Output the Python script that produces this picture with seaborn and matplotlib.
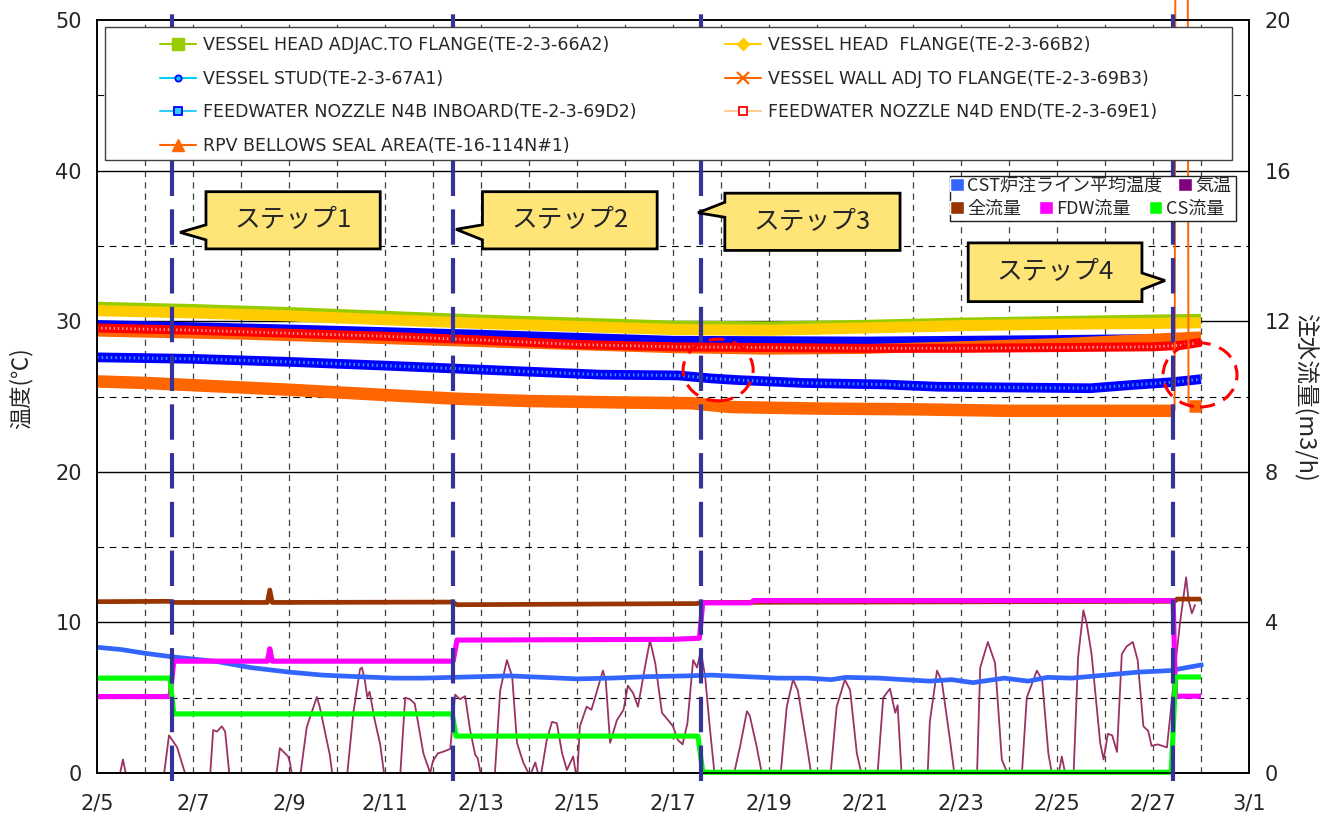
import numpy as np
import pandas as pd
import matplotlib
matplotlib.use("Agg")
import matplotlib.pyplot as plt
import seaborn as sns
from matplotlib.patches import Rectangle, Polygon, Ellipse, Patch
from matplotlib.lines import Line2D

# ---------------- data (x = days elapsed since 2/5 00:00) ----------------
x_tick_days = [0, 2, 4, 6, 8, 10, 12, 14, 16, 18, 20, 22, 24]
x_tick_labels = ["2/5", "2/7", "2/9", "2/11", "2/13", "2/15", "2/17",
                 "2/19", "2/21", "2/23", "2/25", "2/27", "3/1"]
temp_ticks = [0, 10, 20, 30, 40, 50]
flow_ticks = [0, 4, 8, 12, 16, 20]

step_days = [1.56, 7.42, 12.58, 22.42]
step_names = ["ステップ1", "ステップ2", "ステップ3", "ステップ4"]

# RPV surface temperatures (deg C)
head_adj_day = [0, 2, 4, 6, 8, 10, 12, 14, 16, 18, 20, 22, 23.0]
head_adj_temp = [30.9, 30.75, 30.55, 30.3, 30.05, 29.85, 29.65, 29.6, 29.7, 29.85, 29.95, 30.05, 30.1]

head_flange_day = [0, 2, 4, 6, 8, 10, 12, 14, 16, 18, 20, 22, 23.0]
head_flange_temp = [30.7, 30.55, 30.35, 30.1, 29.85, 29.65, 29.45, 29.4, 29.55, 29.7, 29.8, 29.85, 29.9]

stud_day = [0, 4, 8, 12, 16, 20, 23.0]
stud_temp = [29.8, 29.5, 29.15, 28.75, 28.7, 28.8, 28.9]

wall_day = [0, 3, 6, 9, 12, 14, 16, 18, 20, 22, 23.0]
wall_temp = [29.3, 29.1, 28.8, 28.5, 28.2, 28.1, 28.15, 28.35, 28.55, 28.85, 29.0]

n4d_day = [0, 2, 4, 6, 8, 10, 12, 14, 16, 18, 20, 22, 22.6, 23.0]
n4d_temp = [29.55, 29.4, 29.2, 29.0, 28.75, 28.45, 28.3, 28.25, 28.2, 28.2, 28.25, 28.3, 28.4, 28.6]

n4b_day = [0, 2, 4, 6, 7.5, 9, 10.5, 12.1, 12.8, 13.3, 14.7, 16.4, 17.5, 19, 20.7, 21.5, 22.4, 23.0]
n4b_temp = [27.6, 27.5, 27.3, 27.05, 26.85, 26.65, 26.45, 26.4, 26.2, 26.1, 25.9, 25.8, 25.65,
            25.6, 25.55, 25.75, 25.95, 26.15]

bellows_day = [0, 1, 2, 4, 6, 7.5, 9, 11, 12.4, 13.2, 15, 17, 19, 21, 22.45,
               22.47, 22.72, 22.74, 23.0]
bellows_temp = [26.0, 25.9, 25.75, 25.45, 25.1, 24.85, 24.7, 24.6, 24.55, 24.3, 24.2, 24.15,
                24.05, 24.05, 24.05, 60.0, 60.0, 24.4, 24.4]

# injection line average temperature (deg C)
cst_day = [0, 0.5, 1, 1.6, 2.5, 3.2, 4, 4.7, 5.4, 6.2, 6.8, 7.4, 8, 8.6, 9.3, 10, 10.7, 11.5,
           12.3, 12.8, 13.5, 14.2, 14.8, 15.3, 15.6, 16.3, 16.8, 17.35, 17.8, 18.25, 18.9,
           19.4, 19.8, 20.3, 21.0, 21.7, 22.35, 23.05]
cst_temp = [8.35, 8.2, 7.95, 7.7, 7.4, 7.0, 6.7, 6.5, 6.4, 6.3, 6.3, 6.35, 6.4, 6.45, 6.35, 6.25,
            6.3, 6.4, 6.45, 6.5, 6.4, 6.3, 6.3, 6.2, 6.35, 6.3, 6.2, 6.1, 6.2, 6.0, 6.3, 6.1,
            6.35, 6.3, 6.5, 6.7, 6.8, 7.2]

# outdoor air temperature (deg C)
air_day = [0.0, 0.45, 0.54, 0.63, 1.0, 1.38, 1.5, 1.67, 1.88, 2.1, 2.35, 2.42, 2.5, 2.6, 2.67,
           2.77, 3.2, 3.72, 3.81, 3.98, 4.02, 4.08, 4.2, 4.37, 4.58, 4.64, 4.85, 4.92, 5.05,
           5.2, 5.34, 5.48, 5.52, 5.58, 5.63, 5.68, 5.78, 5.9, 6.0, 6.15, 6.31, 6.42, 6.52,
           6.62, 6.73, 6.8, 6.94, 7.0, 7.1, 7.2, 7.36, 7.46, 7.56, 7.67, 7.77, 7.88, 7.93,
           8.02, 8.15, 8.29, 8.40, 8.54, 8.65, 8.75, 8.88, 9.02, 9.13, 9.23, 9.37, 9.48, 9.58,
           9.69, 9.79, 9.92, 10.0, 10.06, 10.2, 10.3, 10.38, 10.54, 10.6, 10.69, 10.83, 10.97,
           11.06, 11.17, 11.27, 11.42, 11.52, 11.63, 11.77, 11.9, 12.0, 12.1, 12.2, 12.3,
           12.42, 12.5, 12.58, 12.67, 12.77, 12.88, 13.1, 13.4, 13.54, 13.6, 13.74, 13.88,
           14.05, 14.23, 14.37, 14.5, 14.6, 14.79, 14.9, 15.1, 15.27, 15.41, 15.58, 15.69,
           15.83, 15.96, 16.1, 16.25, 16.38, 16.52, 16.63, 16.68, 16.77, 17.0, 17.3, 17.35,
           17.5, 17.6, 17.77, 17.88, 18.1, 18.33, 18.4, 18.56, 18.71, 18.85, 18.94, 19.06,
           19.16, 19.26, 19.37, 19.58, 19.69, 19.82, 19.92, 20.02, 20.1, 20.2, 20.34, 20.44,
           20.55, 20.62, 20.72, 20.9, 20.97, 21.06, 21.15, 21.25, 21.35, 21.45, 21.58, 21.68,
           21.8, 21.9, 21.97, 22.1, 22.29, 22.35, 22.46, 22.56, 22.69, 22.74, 22.81, 22.88]
air_temp = [-2.5, -0.5, 0.9, -0.5, -3.0, -0.5, 2.5, 1.7, -0.5, -3.0, -0.5, 2.85, 2.75, 3.1, 2.75,
            -0.5, -3.0, -0.5, 1.65, 1.1, 0.7, -0.5, -1.0, 3.05, 5.05, 4.4, 1.2, -0.5, -2.0,
            -0.5, 4.0, 6.9, 7.0, 6.15, 5.05, 5.4, 3.6, 1.9, -0.5, -1.5, -0.5, 5.0, 4.9,
            4.6, 2.6, 1.3, 0.0, 0.8, 1.3, 1.4, 1.6, 5.2, 4.9, 5.1, 2.9, 1.2, 1.0,
            -0.5, -1.5, 0.0, 5.5, 7.5, 6.4, 2.0, 0.7, -0.2, 0.7, -0.5, 2.2, 3.4, 3.3,
            1.3, 0.2, 1.1, -0.5, 3.1, 4.4, 4.2, 5.05, 6.8, 6.1, 2.0, 3.5, 4.2,
            5.8, 5.3, 4.4, 7.1, 8.8, 7.3, 4.0, 3.5, 3.1, 2.2, 1.9, 3.3,
            7.5, 7.0, 8.1, 6.4, 2.9, -0.5, -2.5, 1.8, 4.1, 3.8, 1.8, -0.5,
            -2.5, -0.5, 4.4, 6.2, 5.5, 1.8, -0.5, -2.5, -0.5, 4.4, 6.2, 5.5,
            1.3, -0.5, -1.0, -0.5, 5.0, 5.6, 4.0, 4.5, -0.5, -3.0, -0.5, 3.4,
            6.8, 6.1, 2.2, -0.5, -3.0, -0.5, 7.0, 8.7, 7.3, 0.9, 0.2, 0.0,
            -0.5, -0.5, 5.0, 6.8, 6.2, 1.3, -0.5, -0.3, 1.1, -0.5, -0.5, 7.7,
            10.8, 9.9, 7.9, 2.0, 0.9, 2.6, 2.5, 1.4, 7.9, 8.4, 8.7, 7.5,
            3.1, 2.8, 1.8, 1.9, 1.7, 3.5, 7.0, 9.9, 13.0, 11.5, 10.6, 11.2]

# injection flow rates (m3/h)
total_day = [0, 1.5, 1.6, 3.55, 3.6, 3.65, 7.4, 7.5, 12.5, 12.6, 22.45, 22.5, 23.0]
total_flow = [4.55, 4.56, 4.53, 4.53, 4.86, 4.53, 4.54, 4.47, 4.5, 4.53, 4.56, 4.62, 4.62]

fdw_day = [0, 1.52, 1.6, 3.55, 3.6, 3.65, 7.42, 7.5, 12.0, 12.55, 12.62, 13.62, 13.68, 22.42, 22.47, 23.0]
fdw_flow = [2.03, 2.03, 2.97, 2.97, 3.3, 2.97, 2.97, 3.53, 3.55, 3.58, 4.52, 4.52, 4.58, 4.58, 2.04, 2.04]

cs_day = [0, 1.52, 1.6, 7.4, 7.48, 12.52, 12.62, 22.38, 22.47, 23.0]
cs_flow = [2.52, 2.52, 1.57, 1.57, 0.98, 0.98, 0.02, 0.02, 2.55, 2.55]

# ---------------- styling ----------------
sns.set_style("white")
plt.rcParams["font.family"] = ["DejaVu Sans", "Noto Sans CJK JP"]
JP = ["Noto Sans CJK JP", "DejaVu Sans"]

C_HEAD_ADJ = "#99CC00"
C_HEAD_FL = "#FFCC00"
C_STUD = "#0000FF"
C_WALL = "#FF6600"
C_N4D = "#FF0000"
C_N4B = "#0000FF"
C_BELLOWS = "#FF6600"
C_CST = "#3366FF"
C_AIR = "#993366"
C_TOTAL = "#993300"
C_FDW = "#FF00FF"
C_CS = "#00FF00"
C_STEP = "#333399"

W, H = 1325, 819
fig = plt.figure(figsize=(W / 100, H / 100), dpi=100)
ax = fig.add_axes([97 / W, 1 - 773 / H, 1152 / W, 753 / H])
ax2 = ax.twinx()


def draw(axis, d, v, color, lw, z, **kw):
    sns.lineplot(x=d, y=v, ax=axis, color=color, linewidth=lw, sort=False,
                 estimator=None, legend=False, zorder=z,
                 solid_capstyle="butt", solid_joinstyle="round", **kw)
    return axis.lines[-1]


# grid
for d in range(1, 24):
    ax.axvline(d, color="#404040", lw=0.9, ls=(0, (5, 4)), zorder=0.5)
for y in [10, 20, 30, 40]:
    ax.axhline(y, color="black", lw=1.0, zorder=0.5)
for y in [5, 15, 25, 35, 45]:
    ax.axhline(y, color="black", lw=0.8, ls=(0, (6, 5)), zorder=0.5)

# temperature bands (dense marker traces rendered as wide strokes)
draw(ax, head_adj_day, head_adj_temp, C_HEAD_ADJ, 8.5, 2.0)
draw(ax, head_flange_day, head_flange_temp, C_HEAD_FL, 8.0, 2.1)
draw(ax, stud_day, stud_temp, C_STUD, 6.0, 2.2)
draw(ax, wall_day, wall_temp, C_WALL, 7.0, 2.3)
draw(ax, n4d_day, n4d_temp, C_N4D, 6.5, 2.4)
draw(ax, n4d_day, n4d_temp, "#FF9999", 2.0, 2.41, linestyle=(0, (0.5, 1.0)))
draw(ax, n4b_day, n4b_temp, C_N4B, 7.0, 2.5)
draw(ax, n4b_day, n4b_temp, "#3399FF", 2.2, 2.51, linestyle=(0, (0.5, 1.0)))

# bellows: wide band, with the out-of-range excursion drawn as a thin trace
b_day = np.array(bellows_day)
b_temp = np.array(bellows_temp)
hi = np.where(b_temp > 50)[0]
i0, i1 = hi[0] - 1, hi[-1] + 1
draw(ax, b_day[:i0 + 1], b_temp[:i0 + 1], C_BELLOWS, 9.0, 2.6)
spike = draw(ax, b_day[i0:i1 + 1], b_temp[i0:i1 + 1], C_BELLOWS, 1.4, 2.6)
spike.set_clip_on(False)
draw(ax, b_day[i1:], b_temp[i1:], C_BELLOWS, 9.0, 2.6)

draw(ax, air_day, air_temp, C_AIR, 1.3, 2.7)
draw(ax, cst_day, cst_temp, C_CST, 3.4, 2.8)

# flows on the right axis
draw(ax2, total_day, total_flow, C_TOTAL, 3.4, 2.0)
draw(ax2, fdw_day, fdw_flow, C_FDW, 3.7, 2.1)
cs_line = draw(ax2, cs_day, cs_flow, C_CS, 3.7, 2.2)
cs_line.set_clip_on(False)

# step markers
for s in step_days:
    ax2.axvline(s, ymin=-0.01, ymax=1.015, clip_on=False, color=C_STEP, lw=3.0,
                ls=(0, (8.5, 3.2)), zorder=5)

# axes, ticks, labels
ax.set_xlim(0, 24)
ax.set_ylim(0, 50)
ax2.set_ylim(0, 20)
ax.set_xticks(x_tick_days)
ax.set_xticklabels(x_tick_labels)
ax.set_yticks(temp_ticks)
ax.set_yticklabels([str(t) for t in temp_ticks])
ax2.set_yticks(flow_ticks)
ax2.set_yticklabels([str(t) for t in flow_ticks])
ax.tick_params(axis="x", length=0, labelsize=15, pad=15)
ax.tick_params(axis="y", length=0, labelsize=15, pad=11)
ax2.tick_params(axis="y", length=0, labelsize=15, pad=11.5)
ax.set_xlabel("")
for a in (ax, ax2):
    for sp in a.spines.values():
        sp.set_color("black")
        sp.set_linewidth(1.2)

ax.set_ylabel("温度(℃)", fontsize=16, family=JP)
ax.yaxis.set_label_coords(-0.056, 0.511)
ax2.set_ylabel("注水流量(m3/h)", fontsize=17, family=JP, rotation=-90, va="center")
ax2.yaxis.set_label_coords(1.0486, 0.499)

# ---------------- legends ----------------
def frac_x(px):
    return (px - 97) / 1152


def frac_y(py):
    return 1 - (py - 20) / 753


ax2.add_patch(Rectangle((frac_x(105), frac_y(160)), frac_x(1232) - frac_x(105),
                        frac_y(27) - frac_y(160), transform=ax2.transAxes,
                        fc="white", ec="#404040", lw=1.0, zorder=10))
ax2.add_patch(Rectangle((frac_x(950), frac_y(221)), frac_x(1236) - frac_x(950),
                        frac_y(176) - frac_y(221), transform=ax2.transAxes,
                        fc="white", ec="#202020", lw=1.0, zorder=10))

h_head_adj = Line2D([], [], color=C_HEAD_ADJ, lw=1.5, marker="s", ms=8, mfc=C_HEAD_ADJ, mec=C_HEAD_ADJ)
h_head_fl = Line2D([], [], color=C_HEAD_FL, lw=1.5, marker="D", ms=6.5, mfc=C_HEAD_FL, mec=C_HEAD_FL)
h_stud = Line2D([], [], color="#00CCFF", lw=1.5, marker="o", ms=4.5, mfc="#00CCFF", mec="#0000FF", mew=1.3)
h_wall = Line2D([], [], color=C_WALL, lw=1.5, marker="x", ms=9, mec=C_WALL, mew=1.6)
h_n4b = Line2D([], [], color="#33CCFF", lw=1.5, marker="s", ms=6, mfc="#33CCFF", mec="#0000FF", mew=1.3)
h_n4d = Line2D([], [], color="#FFCC99", lw=1.5, marker="s", ms=6, mfc="white", mec="#FF0000", mew=1.3)
h_bellows = Line2D([], [], color=C_BELLOWS, lw=1.5, marker="^", ms=9, mfc=C_BELLOWS, mec=C_BELLOWS)

leg_kw = dict(loc="upper left", frameon=False, fontsize=12.5, handlelength=2.1,
              handletextpad=0.4, labelspacing=0.9, borderpad=0, borderaxespad=0)
leg_a = ax2.legend(handles=[h_head_adj, h_stud, h_n4b, h_bellows],
                   labels=["VESSEL HEAD ADJAC.TO FLANGE(TE-2-3-66A2)",
                           "VESSEL STUD(TE-2-3-67A1)",
                           "FEEDWATER NOZZLE N4B INBOARD(TE-2-3-69D2)",
                           "RPV BELLOWS SEAL AREA(TE-16-114N#1)"],
                   bbox_to_anchor=(frac_x(160), frac_y(36)), **leg_kw)
leg_a.set_zorder(11)
ax2.add_artist(leg_a)
leg_b = ax2.legend(handles=[h_head_fl, h_wall, h_n4d],
                   labels=["VESSEL HEAD  FLANGE(TE-2-3-66B2)",
                           "VESSEL WALL ADJ TO FLANGE(TE-2-3-69B3)",
                           "FEEDWATER NOZZLE N4D END(TE-2-3-69E1)"],
                   bbox_to_anchor=(frac_x(725), frac_y(36)), **leg_kw)
leg_b.set_zorder(11)
ax2.add_artist(leg_b)

leg2_kw = dict(loc="upper left", frameon=False, prop={"family": JP, "size": 13},
               handlelength=0.75, handleheight=0.75, handletextpad=0.2,
               borderpad=0, borderaxespad=0)
leg_c = ax2.legend(handles=[Patch(fc=C_CST), Patch(fc="#800080")],
                   labels=["CST炉注ライン平均温度", "気温"], ncol=2, columnspacing=0.9,
                   bbox_to_anchor=(frac_x(950), frac_y(177)), **leg2_kw)
leg_c.set_zorder(11)
ax2.add_artist(leg_c)
leg_d = ax2.legend(handles=[Patch(fc=C_TOTAL), Patch(fc=C_FDW), Patch(fc=C_CS)],
                   labels=["全流量", "FDW流量", "CS流量"], ncol=3, columnspacing=1.0,
                   bbox_to_anchor=(frac_x(950), frac_y(200)), **leg2_kw)
leg_d.set_zorder(11)

# ---------------- step callouts ----------------
# box: (x_left, x_right, y_bottom, y_top); tail: base1, tip, base2
callouts = [
    dict(box=(2.27, 5.9, 34.8, 38.6), tail=[(2.27, 35.4), (1.73, 35.9), (2.27, 36.4)]),
    dict(box=(8.03, 11.67, 34.8, 38.6), tail=[(8.03, 35.4), (7.48, 36.1), (8.03, 36.4)]),
    dict(box=(13.08, 16.73, 34.7, 38.5), tail=[(13.08, 36.9), (12.52, 37.2), (13.08, 37.9)]),
    dict(box=(18.15, 21.77, 31.3, 35.2), tail=[(21.77, 33.2), (22.25, 32.7), (21.77, 32.1)]),
]
for c, name in zip(callouts, step_names):
    x0, x1, y0, y1 = c["box"]
    t = c["tail"]
    if t[0][0] == x0:
        verts = [(x0, y1), (x1, y1), (x1, y0), (x0, y0), t[0], t[1], t[2]]
    else:
        verts = [(x0, y1), (x1, y1), t[0], t[1], t[2], (x1, y0), (x0, y0)]
    ax2.add_patch(Polygon(verts, closed=True, transform=ax.transData, fc="#FFE478",
                          ec="black", lw=2.0, zorder=12, joinstyle="miter"))
    ax2.text((x0 + x1) / 2, (y0 + y1) / 2, name, transform=ax.transData, ha="center",
             va="center", fontsize=18.5, family=JP, zorder=13)

# highlighted regions
for (cx, cy, w, h) in [(12.94, 26.76, 1.46, 4.1), (22.98, 26.43, 1.54, 4.25)]:
    ax2.add_patch(Ellipse((cx, cy), w, h, transform=ax.transData, fc="none",
                          ec="#FF0000", lw=2.2, ls=(0, (5, 3)), zorder=12))

fig.savefig("out.png", dpi=100, facecolor="white")
